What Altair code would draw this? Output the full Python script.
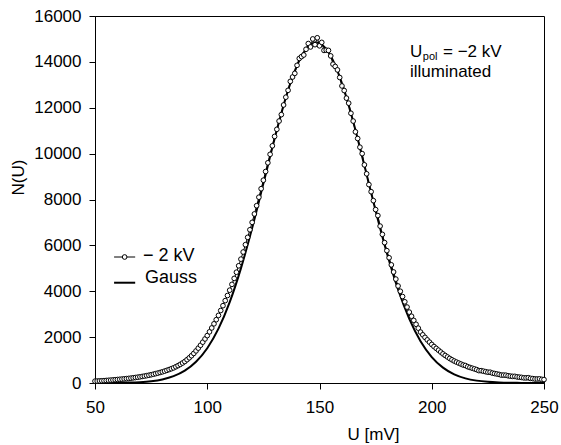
import altair as alt
import pandas as pd

FONT = "Liberation Sans"

# measured spectrum (1 mV steps)
U_data = list(range(50, 251))
N_data = [
    80, 85, 91, 97, 103, 110, 117, 125, 133, 142,
    152, 161, 170, 180, 190, 200, 212, 225, 239, 253,
    268, 285, 302, 320, 339, 360, 383, 407, 432, 459,
    487, 518, 551, 586, 622, 660, 708, 758, 813, 872,
    936, 1016, 1100, 1190, 1290, 1400, 1520, 1645, 1780, 1920,
    2066, 2230, 2400, 2580, 2760, 2948, 3160, 3370, 3590, 3815,
    4046, 4300, 4560, 4830, 5110, 5400, 5710, 6030, 6350, 6680,
    7004, 7370, 7730, 8100, 8470, 8842, 9220, 9600, 9970, 10340,
    10750, 11060, 11420, 11700, 12120, 12460, 12760, 13150, 13340, 13500,
    13850, 14150, 14230, 14300, 14550, 14800, 14650, 15000, 14750, 15050,
    14700, 14850, 14500, 14510, 14500, 14260, 13900, 13800, 13650, 13320,
    12950, 12750, 12420, 12200, 11760, 11420, 10950, 10660, 10280, 10000,
    9510, 9120, 8650, 8340, 7950, 7560, 7300, 6840, 6480, 6120,
    5770, 5460, 5150, 4840, 4530, 4230, 4000, 3770, 3540, 3310,
    3090, 2910, 2730, 2560, 2390, 2220, 2100, 1990, 1880, 1780,
    1680, 1590, 1510, 1430, 1350, 1270, 1200, 1135, 1070, 1012,
    958, 912, 869, 827, 785, 760, 711, 678, 646, 615,
    584, 540, 538, 515, 493, 471, 470, 432, 413, 393,
    374, 345, 344, 340, 315, 300, 289, 290, 266, 255,
    244, 225, 223, 230, 202, 192, 175, 175, 180, 158,
    150,
]

# Gauss fit
U_gauss = [50, 55, 60, 65, 70, 75, 80, 85, 90, 95,
           100, 105, 110, 115, 120, 125, 130, 135, 140, 145,
           150, 155, 160, 165, 170, 175, 180, 185, 190, 195,
           200, 205, 210, 215, 220, 225, 230, 235, 240, 245, 250]
N_gauss = [1, 3, 7, 17, 38, 79, 157, 297, 536, 924,
           1516, 2368, 3526, 4999, 6754, 8692, 10653, 12443, 13845, 14675,
           14818, 14253, 13062, 11402, 9483, 7513, 5670, 4076, 2793, 1822,
           1132, 671, 378, 203, 104, 51, 24, 10, 4, 2, 1]

x_ticks = [50, 100, 150, 200, 250]
y_ticks = [0, 2000, 4000, 6000, 8000, 10000, 12000, 14000, 16000]

df = pd.DataFrame({"U": U_data, "N": N_data})
dg = pd.DataFrame({"U": U_gauss, "N": N_gauss})

xscale = alt.Scale(domain=[50, 250], nice=False, zero=False)
yscale = alt.Scale(domain=[0, 16000], nice=False, zero=False)

xaxis = alt.Axis(values=x_ticks, title="U [mV]", grid=False, labelFlush=False,
                 tickSize=6, labelPadding=10, format="d",
                 titleX=278, titleY=56, titleAlign="center", titleBaseline="alphabetic",
                 titleFontWeight="normal")
yaxis = alt.Axis(values=y_ticks, title="N(U)", grid=False, labelFlush=False,
                 tickSize=6, labelPadding=8, format="d",
                 titleX=-77, titleY=161, titleAngle=270, titleAlign="center",
                 titleBaseline="middle", titleFontWeight="normal")

X = alt.X("U:Q", scale=xscale, axis=xaxis)
Y = alt.Y("N:Q", scale=yscale, axis=yaxis)

gauss = alt.Chart(dg).mark_line(color="black", strokeWidth=2, interpolate="cardinal").encode(x=X, y=Y)
dline = alt.Chart(df).mark_line(color="black", strokeWidth=1).encode(x="U:Q", y="N:Q")
pts = alt.Chart(df).mark_point(shape="circle", filled=True, fill="white", stroke="black",
                               strokeWidth=1, size=22, opacity=1).encode(x="U:Q", y="N:Q")

# legend (drawn in data space)
leg_lines = pd.DataFrame({"x": [58.5, 58.5], "x2": [67.9, 67.9], "y": [5493, 4372]})
leg_rule1 = alt.Chart(leg_lines.iloc[[0]]).mark_rule(color="black", strokeWidth=1).encode(
    x="x:Q", x2="x2", y="y:Q")
leg_rule2 = alt.Chart(leg_lines.iloc[[1]]).mark_rule(color="black", strokeWidth=2).encode(
    x="x:Q", x2="x2", y="y:Q")
leg_pt = alt.Chart(pd.DataFrame({"x": [63.2], "y": [5493]})).mark_point(
    shape="circle", filled=True, fill="white", stroke="black", strokeWidth=1, size=22, opacity=1
).encode(x="x:Q", y="y:Q")
leg_text = alt.Chart(pd.DataFrame({"x": [71.4, 72.3], "y": [5515, 4556],
                                   "t": ["\u2212 2 kV", "Gauss"]})).mark_text(
    align="left", baseline="middle", font=FONT, fontSize=18, color="black"
).encode(x="x:Q", y="y:Q", text="t:N")

# annotation
ann_main = alt.Chart(pd.DataFrame({"x": [190.3, 205.0], "y": [14211, 14211],
                                   "t": ["U", "= \u22122 kV"]})).mark_text(
    align="left", baseline="alphabetic", font=FONT, fontSize=17, color="black"
).encode(x="x:Q", y="y:Q", text="t:N")
ann_sub = alt.Chart(pd.DataFrame({"x": [196.0], "y": [14080], "t": ["pol"]})).mark_text(
    align="left", baseline="alphabetic", font=FONT, fontSize=11, color="black"
).encode(x="x:Q", y="y:Q", text="t:N")
ann_ill = alt.Chart(pd.DataFrame({"x": [190.3], "y": [13340], "t": ["illuminated"]})).mark_text(
    align="left", baseline="alphabetic", font=FONT, fontSize=17, color="black"
).encode(x="x:Q", y="y:Q", text="t:N")

chart = alt.layer(gauss, dline, pts, leg_rule1, leg_rule2, leg_pt, leg_text,
                  ann_main, ann_sub, ann_ill).properties(
    width=449, height=367,
    autosize=alt.AutoSizeParams(type="none"),
    padding={"left": 95, "top": 16, "right": 17, "bottom": 62},
    background="white",
).configure_view(stroke="black", strokeWidth=1).configure_axis(
    domainColor="black", tickColor="black", labelColor="black", titleColor="black",
    labelFont=FONT, titleFont=FONT, labelFontSize=17, titleFontSize=17,
    domainWidth=1, tickWidth=1,
)

chart.save("out.html", embed_options={"renderer": "svg", "actions": False})
